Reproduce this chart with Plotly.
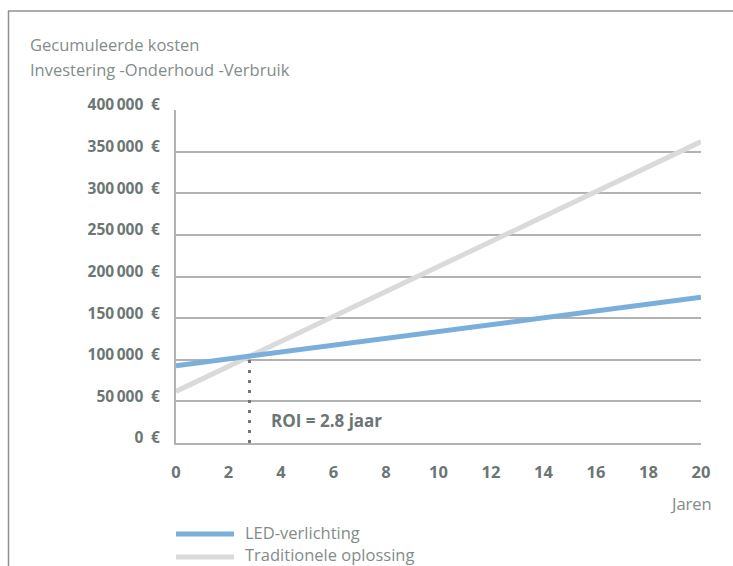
import plotly.graph_objects as go

# Data
years = [0, 20]
led_costs = [92800, 175000]          # LED-verlichting
trad_costs = [62000, 362000]         # Traditionele oplossing
roi_year = [2.8, 2.8]
roi_cost = [0, 104000]

y_tickvals = [0, 50000, 100000, 150000, 200000, 250000, 300000, 350000, 400000]
y_ticktext = ["0\u2002€", "50\u2009000\u2002€", "100\u2009000\u2002€", "150\u2009000\u2002€",
              "200\u2009000\u2002€", "250\u2009000\u2002€", "300\u2009000\u2002€",
              "350\u2009000\u2002€", "400\u2009000\u2002€"]
x_tickvals = [0, 2, 4, 6, 8, 10, 12, 14, 16, 18, 20]

title_lines = ["Gecumuleerde kosten", "Investering -Onderhoud -Verbruik"]
series_names = ["LED-verlichting", "Traditionele oplossing"]

BLUE = "#7aafdc"
LGRAY = "#dadada"
TXT = "#6c7675"
LTXT = "#838c8a"
GRID = "#b0b3b2"
FONT = "Open Sans"

W, H = 733, 566
L, R, T, B = 176, 32, 110, 123
pw, ph = W - L - R, H - T - B

def px(x):
    return (x - L) / pw

def py(y):
    return (H - B - y) / ph

fig = go.Figure()
fig.add_trace(go.Scatter(x=years, y=trad_costs, mode="lines", name=series_names[1],
                         line=dict(color=LGRAY, width=5), showlegend=False))
fig.add_trace(go.Scatter(x=years, y=led_costs, mode="lines", name=series_names[0],
                         line=dict(color=BLUE, width=5), showlegend=False))
fig.add_trace(go.Scatter(x=roi_year, y=roi_cost, mode="lines",
                         line=dict(color="#6f7776", width=3, dash="3px,7px"), showlegend=False))

shapes = []
# frame lines
shapes.append(dict(type="line", xref="paper", yref="paper", x0=px(8), x1=px(740), y0=py(11), y1=py(11),
                   line=dict(color="#8a9391", width=1.5)))
shapes.append(dict(type="line", xref="paper", yref="paper", x0=px(8.5), x1=px(8.5), y0=py(11), y1=py(566),
                   line=dict(color="#8a9391", width=1.5)))
# custom legend swatches
shapes.append(dict(type="line", xref="paper", yref="paper", x0=0, x1=px(234), y0=py(534), y1=py(534),
                   line=dict(color=BLUE, width=5)))
shapes.append(dict(type="line", xref="paper", yref="paper", x0=0, x1=px(234), y0=py(557), y1=py(557),
                   line=dict(color=LGRAY, width=5)))

annotations = [
    dict(text=title_lines[0], xref="paper", yref="paper", x=px(28), y=py(44), xanchor="left",
         yanchor="middle", showarrow=False, font=dict(family=FONT, size=16.5, color=LTXT)),
    dict(text=title_lines[1], xref="paper", yref="paper", x=px(28), y=py(69), xanchor="left",
         yanchor="middle", showarrow=False, font=dict(family=FONT, size=16.5, color=LTXT)),
    dict(text="Jaren", xref="paper", yref="paper", x=px(714), y=py(503), xanchor="right",
         yanchor="middle", showarrow=False, font=dict(family=FONT, size=16.5, color=LTXT)),
    dict(text=series_names[0], xref="paper", yref="paper", x=px(243), y=py(532), xanchor="left",
         yanchor="middle", showarrow=False, font=dict(family=FONT, size=16.5, color=LTXT)),
    dict(text=series_names[1], xref="paper", yref="paper", x=px(243), y=py(554), xanchor="left",
         yanchor="middle", showarrow=False, font=dict(family=FONT, size=16.5, color=LTXT)),
    dict(text="<b>ROI = 2.8 jaar</b>", x=3.55, y=27500, xanchor="left", yanchor="middle",
         showarrow=False, font=dict(family=FONT, size=17, color=TXT)),
]

fig.update_layout(
    width=W, height=H,
    margin=dict(l=L, r=R, t=T, b=B, pad=0),
    plot_bgcolor="white", paper_bgcolor="white",
    showlegend=False,
    shapes=shapes, annotations=annotations,
    font=dict(family=FONT, color=TXT),
)
fig.update_xaxes(range=[0, 20], tickvals=x_tickvals, showgrid=False, zeroline=False,
                 showline=True, linecolor=GRID, linewidth=1.5, ticks="", ticklabelstandoff=13,
                 tickfont=dict(family=FONT, size=16.5, color=TXT, weight="bold"))
fig.update_yaxes(range=[0, 400000], tickvals=y_tickvals, ticktext=y_ticktext,
                 showgrid=True, gridcolor=GRID, gridwidth=1.5, zeroline=False,
                 showline=True, linecolor=GRID, linewidth=2, ticks="", ticklabelstandoff=11,
                 ticklabelshift=-5,
                 tickfont=dict(family=FONT, size=15.5, color=TXT, weight="bold"))

fig.write_html("out.html", config={"displayModeBar": False},
               post_script="document.body.style.margin='0';document.body.style.padding='0';")
